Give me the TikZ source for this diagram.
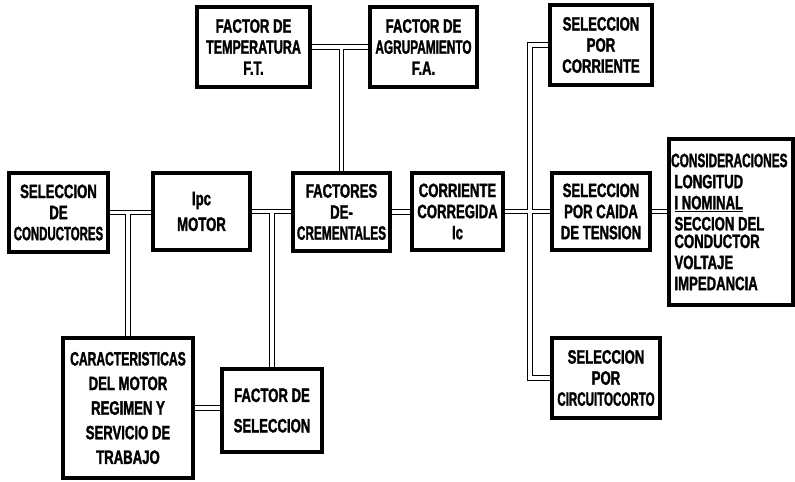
\documentclass[tikz,border=0pt]{standalone}
\usepackage{fontspec}
\usepackage{graphicx}
\usetikzlibrary{positioning}
\newfontfamily\blkfont[FakeStretch=0.68, FakeBold=1.5]{Liberation Sans Bold}
\newcommand{\squeezed}[2]{\scalebox{#1}[1]{#2}}

\begin{document}
\begin{tikzpicture}[
    x=0.03cm, y=-0.03cm,
    block/.style={
        draw, line width=3.2pt, fill=white,
        font=\blkfont\fontsize{16.5}{18}\selectfont,
        align=center, inner sep=1pt
    },
    wire/.style={
        draw, line width=1pt, double, double distance=2.8pt
    }
]

\useasboundingbox (0,0) rectangle (795,481);

% Main row
\node[block, minimum width=2.97cm, minimum height=2.37cm] (selcond) at (58.5,212.5)
    {SELECCION\\DE\\\squeezed{0.87}{CONDUCTORES}};
\node[block, minimum width=2.91cm, minimum height=2.31cm] (ipc) at (201.5,211.5)
    {Ipc\\[4pt]MOTOR};
\node[block, minimum width=2.91cm, minimum height=2.34cm] (factdec) at (341.5,212)
    {FACTORES\\DE-\\\squeezed{0.9}{CREMENTALES}};
\node[block, minimum width=2.73cm, minimum height=2.31cm] (corr) at (457.5,211.5)
    {CORRIENTE\\CORREGIDA\\Ic};
\node[block, minimum width=2.94cm, minimum height=2.31cm] (caida) at (601,211.5)
    {SELECCION\\POR CAIDA\\DE TENSION};
\node[block, align=left, minimum width=3.72cm, minimum height=4.98cm] (consid) at (731,222)
    {\hspace*{-1mm}\squeezed{0.9}{CONSIDERACIONES}\\LONGITUD\\\underline{I NOMINAL}\\
     SECCION DEL\\[-3pt]CONDUCTOR\\VOLTAJE\\IMPEDANCIA};

% Top row
\node[block, minimum width=3.39cm, minimum height=2.4cm] (ft) at (253.5,47)
    {FACTOR DE\\\squeezed{0.95}{TEMPERATURA}\\F.T.};
\node[block, minimum width=3.21cm, minimum height=2.4cm] (fa) at (423.5,47)
    {FACTOR DE\\\squeezed{0.9}{AGRUPAMIENTO}\\F.A.};
\node[block, minimum width=3.06cm, minimum height=2.4cm] (selcorr) at (601,45)
    {SELECCION\\POR\\CORRIENTE};

% Bottom row
\node[block, minimum width=3.9cm, minimum height=4.2cm] (caract) at (128,408)
    {\squeezed{0.92}{CARACTERISTICAS}\\[3pt]DEL MOTOR\\[3pt]REGIMEN Y\\[3pt]SERVICIO DE\\[3pt]TRABAJO};
\node[block, minimum width=3cm, minimum height=2.49cm] (factsel) at (272,410.5)
    {FACTOR DE\\[8pt]SELECCION};
\node[block, minimum width=3.24cm, minimum height=2.4cm] (cc) at (606,378)
    {SELECCION\\POR\\\squeezed{0.88}{CIRCUITOCORTO}};

\coordinate (bus) at (530,212);

% Double connectors
\draw[wire] (selcond.east) -- (selcond.east -| ipc.west)
    (caract.north) -- (caract.north |- selcond.east)
    (ipc.east) -- (ipc.east -| factdec.west)
    (factsel.north) -- (factsel.north |- ipc.east)
    (caract.east) -- (caract.east -| factsel.west)
    (ft.east) -- (fa.west)
    (factdec.north) -- (factdec.north |- ft.east)
    (factdec.east) -- (factdec.east -| corr.west)
    (corr.east) -- (corr.east -| caida.west)
    (selcorr.west) -| (bus) |- (cc.west)
    (caida.east) -- (caida.east -| consid.west);

\end{tikzpicture}
\end{document}
